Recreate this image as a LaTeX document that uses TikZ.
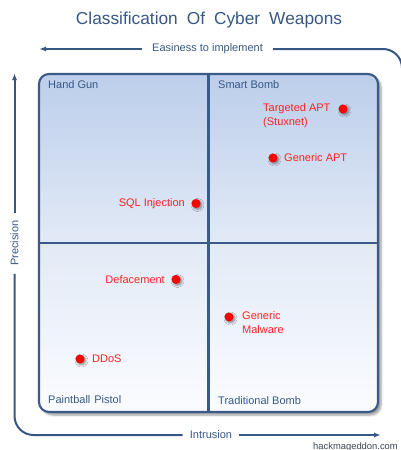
\documentclass[tikz,border=0pt]{standalone}
\usepackage{fontspec}
\setmainfont{Liberation Sans}
\usetikzlibrary{arrows.meta,shadows.blur}
\definecolor{axisblue}{RGB}{55,88,132}
\definecolor{boxblue}{RGB}{58,90,135}
\definecolor{topfill}{RGB}{188,206,235}
\definecolor{midfill}{RGB}{226,234,246}
\definecolor{botfill}{RGB}{251,252,255}
\definecolor{dotred}{RGB}{255,0,0}
\definecolor{labred}{RGB}{250,35,35}
\definecolor{credit}{RGB}{60,70,90}
\begin{document}
\begin{tikzpicture}[x=1pt,y=1pt,
  axisline/.style={axisblue,line width=2pt},
  axistip/.style={-{Latex[length=7pt,width=5pt]}},
  boxline/.style={boxblue,line width=2.1pt},
  axislabel/.style={text=axisblue,font=\fontsize{11}{13}\selectfont,inner sep=0pt},
  quadlabel/.style={text=axisblue,font=\fontsize{11}{13}\selectfont,inner sep=0pt},
  reddot/.style={circle,fill=dotred,inner sep=0pt,minimum size=9pt,
    blur shadow={shadow xshift=1.5pt,shadow yshift=-1.5pt,shadow blur steps=4,shadow opacity=45}},
  redlabel/.style={text=labred,font=\fontsize{11}{14}\selectfont,inner sep=0pt,align=left}]
\useasboundingbox (0,0) rectangle (400,-450);

% title
\node[text=axisblue,font=\fontsize{17.3}{20}\selectfont,inner sep=0pt] (title) at (209,-20)
  {Classification\hspace{9pt}Of\hspace{9pt}Cyber\hspace{9pt}Weapons};

% quadrant box
\path[rounded corners=10pt,fill=white,
  blur shadow={shadow xshift=3pt,shadow yshift=-3pt,shadow blur steps=6,shadow opacity=40}]
  (39,-74) rectangle (378,-412);
\begin{scope}
  \clip[rounded corners=10pt] (39,-74) rectangle (378,-412);
  \shade[top color=topfill,bottom color=midfill] (39,-74) rectangle (378,-243);
  \shade[top color=midfill,bottom color=botfill] (39,-243) rectangle (378,-412);
\end{scope}
\draw[boxline,rounded corners=10pt] (39,-74) rectangle (378,-412);
\coordinate (vt) at (208.5,-74);
\coordinate (vb) at (208.5,-412);
\coordinate (hl) at (39,-243);
\coordinate (hr) at (378,-243);
\draw[boxline] (vt) -- (vb);
\draw[boxline] (hl) -- (hr);

% quadrant labels
\node[quadlabel,anchor=west] (handgun) at (48,-84.5) {Hand Gun};
\node[quadlabel,anchor=west] (smartbomb) at (218,-84.5) {Smart Bomb};
\node[quadlabel,anchor=west] (paintball) at (48,-400) {Paintball\hspace{4pt}Pistol};
\node[quadlabel,anchor=west] (tradbomb) at (218,-400.5) {Traditional Bomb};

% top axis: Easiness to implement
\node[axislabel] (easy) at (207.5,-49) {Easiness to implement};
\coordinate (easytip) at (39,-49);
\coordinate (easyend) at (402,-49);
\coordinate (easydown) at (402,-120);
\draw[axisline,axistip] (easy.west) ++(-10,0) -- (easytip);
\draw[axisline,rounded corners=19pt] (easy.east) ++(10,0) -- (easyend) -- (easydown);

% left axis: Precision
\node[axislabel,rotate=90] (prec) at (14.5,-243) {Precision};
\coordinate (prectip) at (14.5,-73);
\coordinate (preccorner) at (14.5,-435);
\draw[axisline,axistip] (prec.east) ++(0,7) -- (prectip);
% bottom axis: Intrusion
\node[axislabel] (intr) at (211,-435) {Intrusion};
\coordinate (intrtip) at (381,-435);
\draw[axisline,rounded corners=19pt] (prec.west) ++(0,-8) -- (preccorner) -- ([xshift=-7pt]intr.west);
\draw[axisline,axistip] ([xshift=7pt]intr.east) -- (intrtip);

% credit
\node[text=credit,font=\fontsize{9.4}{11}\selectfont,inner sep=0pt,anchor=east] (credit) at (398,-447) {hackmageddon.com};

% points
\node[reddot] (d1) at (343,-109) {};
\node[redlabel,anchor=north west] (l1) at (263,-103) {Targeted APT\\(Stuxnet)};
\node[reddot] (d2) at (273,-158) {};
\node[redlabel,anchor=west] (l2) at (284,-158) {Generic APT};
\node[reddot] (d3) at (196,-203.5) {};
\node[redlabel,anchor=east] (l3) at (185,-204) {SQL Injection};
\node[reddot] (d4) at (176,-279.5) {};
\node[redlabel,anchor=east] (l4) at (165,-279.5) {Defacement};
\node[reddot] (d5) at (229,-317) {};
\node[redlabel,anchor=north west] (l5) at (242,-311.5) {Generic\\Malware};
\node[reddot] (d6) at (80,-359) {};
\node[redlabel,anchor=west] (l6) at (92,-359) {DDoS};
\end{tikzpicture}
\end{document}
